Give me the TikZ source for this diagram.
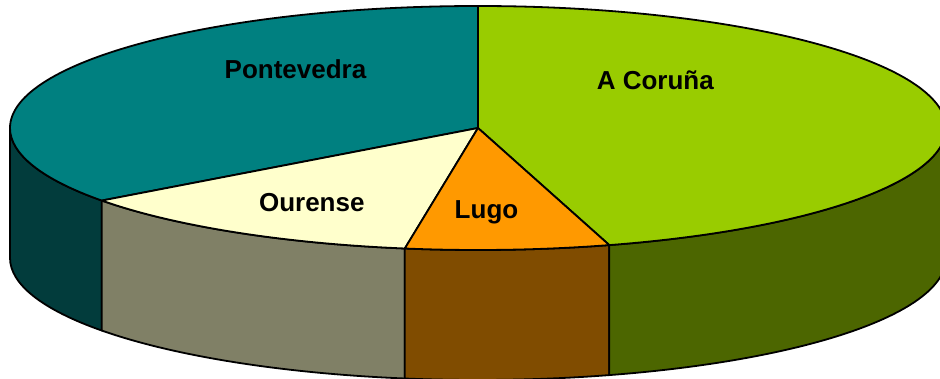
\documentclass[tikz,border=0pt]{standalone}
\usepackage{fontspec}
\setmainfont{Liberation Sans}
\definecolor{ponteTop}{HTML}{008080}
\definecolor{ponteSide}{HTML}{023C3C}
\definecolor{ourTop}{HTML}{FFFFCC}
\definecolor{ourSide}{HTML}{808066}
\definecolor{lugoTop}{HTML}{FF9900}
\definecolor{lugoSide}{HTML}{804C00}
\definecolor{corTop}{HTML}{99CC00}
\definecolor{corSide}{HTML}{4C6600}
\tikzset{
  edge/.style={draw=black, line width=1.8pt, line join=round},
  lbl/.style={anchor=base, font=\bfseries\fontsize{26}{30}\selectfont, inner sep=0pt}
}
\newcommand{\rx}{468}
\newcommand{\ry}{122}
\newcommand{\dep}{130}
\newcommand{\sideface}[3]{%
  \fill[#3, edge] (478,250) ++(#1:\rx\space and \ry) arc[start angle=#1, end angle=#2, x radius=\rx, y radius=\ry] -- ++(0,-\dep) arc[start angle=#2, end angle=#1, x radius=\rx, y radius=\ry] -- cycle;}
\newcommand{\topslice}[3]{%
  \fill[#3, edge] (478,250) -- ++(#1:\rx\space and \ry) arc[start angle=#1, end angle=#2, x radius=\rx, y radius=\ry] -- cycle;}
\begin{document}
\begin{tikzpicture}[x=1pt, y=1pt]
\useasboundingbox (0,0) rectangle (940,378);
\clip (0,0) rectangle (940,378);
\fill[white] (0,0) rectangle (940,378);
% side faces
\sideface{180}{216.5}{ponteSide}
\sideface{216.5}{261}{ourSide}
\sideface{261}{286.3}{lugoSide}
\sideface{286.3}{360}{corSide}
% top slices
\topslice{-73.7}{90}{corTop}
\topslice{90}{216.5}{ponteTop}
\topslice{216.5}{261}{ourTop}
\topslice{261}{286.3}{lugoTop}
% labels
\node[lbl] (pontevedra) at (295.5,299) {Pontevedra};
\node[lbl] (coruna) at (655.3,288) {A Coruña};
\node[lbl] (ourense) at (311.8,166.5) {Ourense};
\node[lbl] (lugo) at (486.5,160) {Lugo};
\end{tikzpicture}
\end{document}
